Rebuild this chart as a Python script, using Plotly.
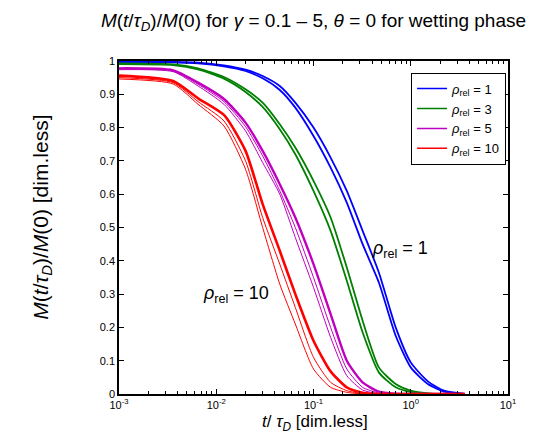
import plotly.graph_objects as go

# time grid t / tau_D [dim.less]
t = [0.001, 0.0036, 0.0065, 0.012, 0.02, 0.03, 0.045, 0.065, 0.1, 0.15,
     0.22, 0.32, 0.47, 0.7, 1.0, 1.5, 2.2, 3.6]

# rho_rel = 1 (blue)
blue_a = [0.998, 0.997, 0.995, 0.987, 0.974, 0.955, 0.925, 0.875, 0.80, 0.71,
          0.61, 0.49, 0.365, 0.20, 0.095, 0.038, 0.010, 0.0]
blue_b = [0.997, 0.996, 0.993, 0.984, 0.970, 0.948, 0.913, 0.86, 0.775, 0.68,
          0.575, 0.45, 0.335, 0.175, 0.08, 0.03, 0.007, 0.0]
# rho_rel = 3 (green)
green_a = [0.993, 0.990, 0.978, 0.952, 0.915, 0.875, 0.81, 0.74, 0.64, 0.53,
           0.38, 0.22, 0.08, 0.03, 0.01, 0.002, 0.0, 0.0]
green_b = [0.991, 0.988, 0.975, 0.947, 0.907, 0.862, 0.795, 0.72, 0.61, 0.49,
           0.34, 0.185, 0.065, 0.02, 0.006, 0.001, 0.0, 0.0]
# rho_rel = 5 (magenta)
mag_a = [0.978, 0.972, 0.935, 0.886, 0.815, 0.73, 0.63, 0.53, 0.39, 0.24,
         0.10, 0.035, 0.007, 0.001, 0.0, 0.0, 0.0, 0.0]
mag_b = [0.976, 0.970, 0.930, 0.878, 0.803, 0.715, 0.61, 0.50, 0.35, 0.20,
         0.075, 0.02, 0.003, 0.0, 0.0, 0.0, 0.0, 0.0]
mag_c = [0.974, 0.968, 0.925, 0.870, 0.790, 0.695, 0.60, 0.47, 0.32, 0.17,
         0.055, 0.012, 0.001, 0.0, 0.0, 0.0, 0.0, 0.0]
# rho_rel = 10 (red)
red_a = [0.956, 0.940, 0.888, 0.838, 0.73, 0.57, 0.43, 0.30, 0.16, 0.068,
         0.02, 0.004, 0.0, 0.0, 0.0, 0.0, 0.0, 0.0]
red_b = [0.950, 0.935, 0.878, 0.820, 0.70, 0.53, 0.39, 0.26, 0.11, 0.035,
         0.01, 0.001, 0.0, 0.0, 0.0, 0.0, 0.0, 0.0]
red_c = [0.946, 0.931, 0.870, 0.805, 0.675, 0.50, 0.33, 0.21, 0.075, 0.02,
         0.005, 0.0, 0.0, 0.0, 0.0, 0.0, 0.0, 0.0]

legend_labels = ["<i>ρ</i><sub>rel</sub> = 1", "<i>ρ</i><sub>rel</sub> = 3",
                 "<i>ρ</i><sub>rel</sub> = 5", "<i>ρ</i><sub>rel</sub> = 10"]
x_tick_vals = [1e-3, 1e-2, 1e-1, 1e0, 1e1]
x_tick_text = ["10<sup>-3</sup>", "10<sup>-2</sup>", "10<sup>-1</sup>",
               "10<sup>0</sup>", "10<sup>1</sup>"]
y_tick_vals = [0, 0.1, 0.2, 0.3, 0.4, 0.5, 0.6, 0.7, 0.8, 0.9, 1]
y_tick_text = ["0", "0.1", "0.2", "0.3", "0.4", "0.5", "0.6", "0.7", "0.8", "0.9", "1"]

BLUE, GREEN, MAG, RED = "#0000ff", "#008000", "#bf00bf", "#ff0000"
FONT = "Liberation Sans, Arial, sans-serif"

fig = go.Figure()

curves = [
    (blue_a, BLUE, 1.8), (blue_b, BLUE, 1.8),
    (green_a, GREEN, 1.8), (green_b, GREEN, 1.8),
    (mag_a, MAG, 2.4), (mag_b, MAG, 1.0), (mag_c, MAG, 1.0),
    (red_a, RED, 2.6), (red_b, RED, 1.0), (red_c, RED, 1.0),
]
for ys, col, w in curves:
    fig.add_trace(go.Scatter(x=t, y=ys, mode="lines",
                             line=dict(color=col, width=w, shape="spline", smoothing=0.6),
                             showlegend=False, hoverinfo="skip"))

for lab, col in zip(legend_labels, [BLUE, GREEN, MAG, RED]):
    fig.add_trace(go.Scatter(x=[None], y=[None], mode="lines", name=lab,
                             line=dict(color=col, width=1.5)))

minor_vals = [m * 10 ** e for e in range(-3, 1) for m in range(2, 10)]

fig.update_xaxes(type="log", range=[-3, 1], tickmode="array",
                 tickvals=x_tick_vals, ticktext=x_tick_text,
                 ticks="inside", ticklen=5, tickcolor="black", tickwidth=1,
                 showline=True, linecolor="black", linewidth=1.5, mirror="ticks",
                 showgrid=False, zeroline=False,
                 tickfont=dict(family=FONT, size=11, color="black"),
                 minor=dict(tickmode="array", tickvals=minor_vals, ticks="inside",
                            ticklen=3, tickcolor="black", showgrid=False))
fig.update_yaxes(range=[0, 1], tickmode="array", tickvals=y_tick_vals,
                 ticktext=y_tick_text,
                 ticks="inside", ticklen=5, tickcolor="black", tickwidth=1,
                 showline=True, linecolor="black", linewidth=1.5, mirror="ticks",
                 showgrid=False, zeroline=False,
                 tickfont=dict(family=FONT, size=11, color="black"))

fig.update_layout(
    width=535, height=435,
    margin=dict(l=111, r=35, t=53, b=49),
    paper_bgcolor="white", plot_bgcolor="white",
    title=dict(text="<i>M</i>(<i>t</i>/<i>τ<sub>D</sub></i>)/<i>M</i>(0) for <i>γ</i> = 0.1 – 5, <i>θ</i> = 0 for wetting phase",
               x=0.571, xanchor="center", y=0.972, yanchor="middle",
               font=dict(family=FONT, size=19, color="black")),
    legend=dict(x=0.995, xanchor="right", y=0.965, yanchor="top",
                bgcolor="white", bordercolor="black", borderwidth=1,
                font=dict(family=FONT, size=13, color="black"),
                itemwidth=30, tracegroupgap=0),
    showlegend=True,
)

fig.add_annotation(text="<i>M</i>(<i>t</i>/<i>τ<sub>D</sub></i>)/<i>M</i>(0) [dim.less]",
                   xref="paper", yref="paper", x=-0.2, y=0.53, textangle=-90,
                   showarrow=False, xanchor="center", yanchor="middle",
                   font=dict(family=FONT, size=21, color="black"))
fig.add_annotation(text="<i>t</i>/ <i>τ<sub>D</sub></i> [dim.less]",
                   xref="paper", yref="paper", x=0.504, y=-0.052,
                   showarrow=False, xanchor="center", yanchor="top", borderpad=0,
                   font=dict(family=FONT, size=17, color="black"))
fig.add_annotation(text="<i>ρ</i><sub>rel</sub> = 1", xref="x", yref="y",
                   x=-0.111, y=0.435, showarrow=False,
                   font=dict(family=FONT, size=18, color="black"))
fig.add_annotation(text="<i>ρ</i><sub>rel</sub> = 10", xref="x", yref="y",
                   x=-1.797, y=0.3, showarrow=False,
                   font=dict(family=FONT, size=18, color="black"))

fig.write_html("out.html")
